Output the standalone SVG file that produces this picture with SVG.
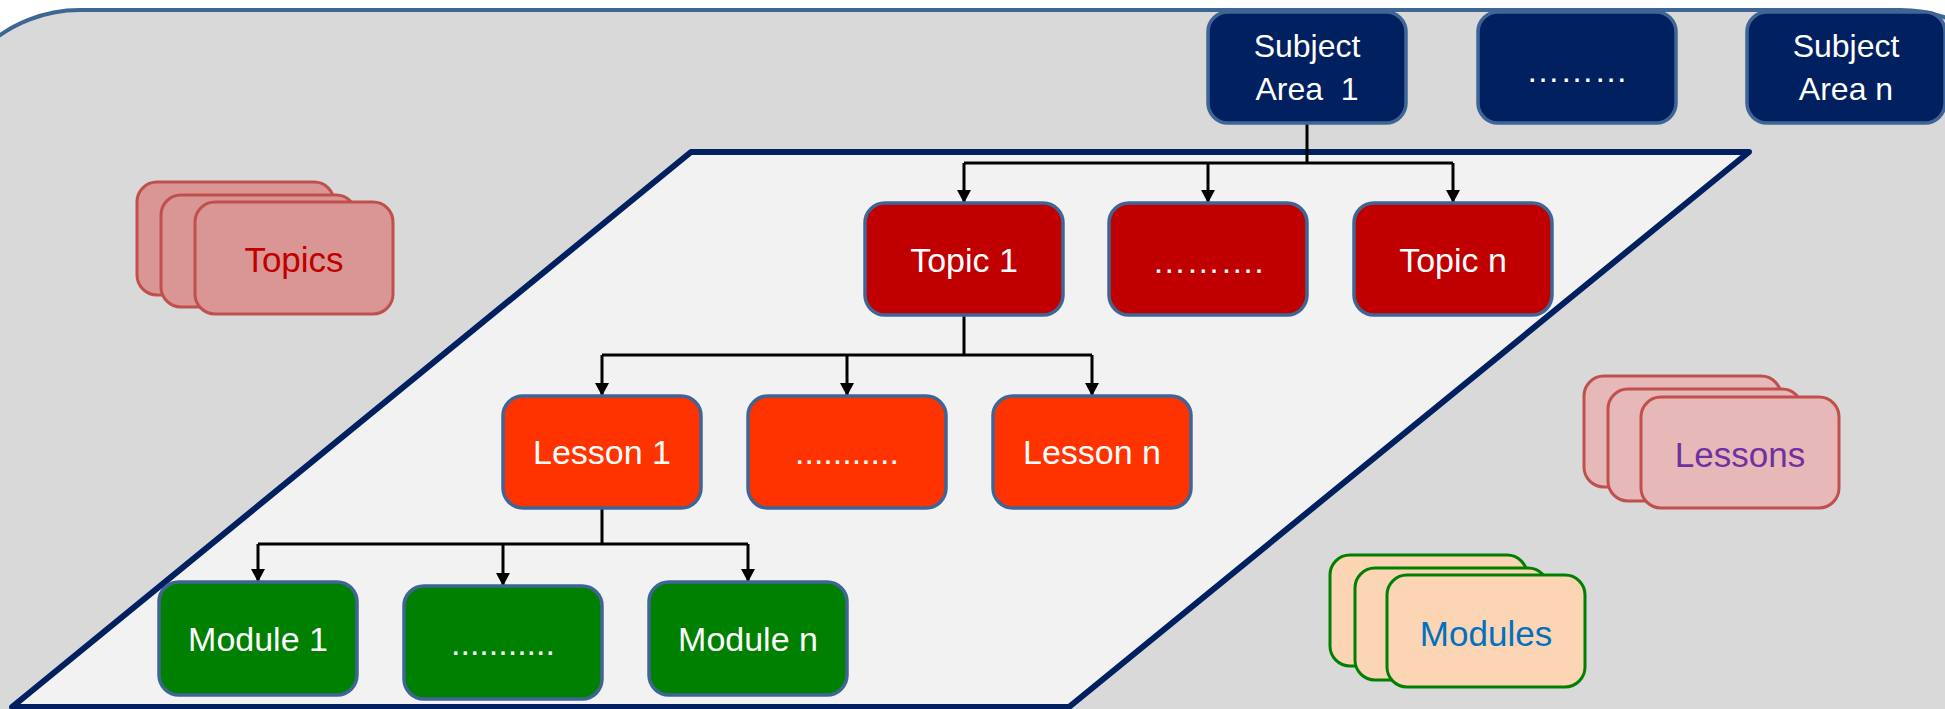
<svg xmlns="http://www.w3.org/2000/svg" width="1945" height="709" viewBox="0 0 1945 709">
<defs>
<style>
.t{font-family:"Liberation Sans",Arial,sans-serif;font-size:34px;text-anchor:middle;fill:#FFFFFF;white-space:pre}
.s{font-size:32px}
.lg{font-family:"Liberation Sans",Arial,sans-serif;font-size:35px;text-anchor:middle}
.subj{fill:#002060;stroke:#3F6596;stroke-width:3.5}
.topic{fill:#C00000;stroke:#3F6596;stroke-width:3.5}
.lesson{fill:#FF3300;stroke:#3F6596;stroke-width:3.5}
.module{fill:#008000;stroke:#3F6596;stroke-width:3.5}
.lt{fill:#DA9694;stroke:#C0504D;stroke-width:3}
.ll{fill:#E6B8B7;stroke:#C0504D;stroke-width:3}
.lm{fill:#FCD5B5;stroke:#008000;stroke-width:3}
.c{fill:none;stroke:#000000;stroke-width:3}
</style>
<marker id="ah" viewBox="0 0 13 14" refX="13" refY="7" markerWidth="13" markerHeight="14" markerUnits="userSpaceOnUse" orient="auto">
<path d="M0,0 L13,7 L0,14 z" fill="#000000"/>
</marker>
</defs>
<rect x="0" y="0" width="1945" height="709" fill="#FFFFFF"/>
<rect x="-60" y="10" width="2100" height="800" rx="140" ry="140" fill="#D9D9D9" stroke="#3E6594" stroke-width="4"/>
<polygon points="691,152 1749,152 1069,707 12,707" fill="#F2F2F2" stroke="#002060" stroke-width="6" stroke-linejoin="round"/>

<g id="legend-topics">
<rect class="lt" x="137" y="182" width="197" height="113" rx="20"/>
<rect class="lt" x="161" y="195" width="195" height="112" rx="20"/>
<rect class="lt" x="195" y="202" width="198" height="112" rx="20"/>
<text class="lg" x="294" y="272" fill="#C00000">Topics</text>
</g>
<g id="legend-lessons">
<rect class="ll" x="1584" y="376" width="197" height="111" rx="20"/>
<rect class="ll" x="1608" y="389" width="194" height="112" rx="20"/>
<rect class="ll" x="1641" y="397" width="198" height="111" rx="20"/>
<text class="lg" x="1740" y="467" fill="#7030A0">Lessons</text>
</g>
<g id="legend-modules">
<rect class="lm" x="1330" y="555" width="197" height="111" rx="20"/>
<rect class="lm" x="1355" y="568" width="193" height="112" rx="20"/>
<rect class="lm" x="1387" y="575" width="198" height="112" rx="20"/>
<text class="lg" x="1486" y="646" fill="#0070C0">Modules</text>
</g>

<g id="connectors">
<path class="c" d="M1307,123 V163 M964,163 H1453"/>
<path class="c" d="M964,163 V203" marker-end="url(#ah)"/>
<path class="c" d="M1208,163 V203" marker-end="url(#ah)"/>
<path class="c" d="M1453,163 V203" marker-end="url(#ah)"/>
<path class="c" d="M964,315 V355 M602,355 H1092"/>
<path class="c" d="M602,355 V396" marker-end="url(#ah)"/>
<path class="c" d="M847,355 V396" marker-end="url(#ah)"/>
<path class="c" d="M1092,355 V396" marker-end="url(#ah)"/>
<path class="c" d="M602,508 V544 M258,544 H748"/>
<path class="c" d="M258,544 V582" marker-end="url(#ah)"/>
<path class="c" d="M503,544 V586" marker-end="url(#ah)"/>
<path class="c" d="M748,544 V582" marker-end="url(#ah)"/>
</g>

<g id="subject-area-1">
<rect class="subj" x="1208" y="12" width="198" height="111" rx="20"/>
<text class="t s" x="1307" y="57">Subject</text>
<text class="t s" x="1307" y="100">Area  1</text>
</g>
<g id="subject-area-dots">
<rect class="subj" x="1478" y="12" width="198" height="111" rx="20"/>
<text class="t" x="1577" y="82">………</text>
</g>
<g id="subject-area-n">
<rect class="subj" x="1747" y="12" width="198" height="111" rx="20"/>
<text class="t s" x="1846" y="57">Subject</text>
<text class="t s" x="1846" y="100">Area n</text>
</g>

<g id="topic-1">
<rect class="topic" x="865" y="203" width="198" height="112" rx="20"/>
<text class="t" x="964" y="272">Topic 1</text>
</g>
<g id="topic-dots">
<rect class="topic" x="1109" y="203" width="198" height="112" rx="20"/>
<text class="t" x="1208" y="273">……….</text>
</g>
<g id="topic-n">
<rect class="topic" x="1354" y="203" width="198" height="112" rx="20"/>
<text class="t" x="1453" y="272">Topic n</text>
</g>

<g id="lesson-1">
<rect class="lesson" x="503" y="396" width="198" height="112" rx="20"/>
<text class="t" x="602" y="464">Lesson 1</text>
</g>
<g id="lesson-dots">
<rect class="lesson" x="748" y="396" width="198" height="112" rx="20"/>
<text class="t" x="847" y="464">...........</text>
</g>
<g id="lesson-n">
<rect class="lesson" x="993" y="396" width="198" height="112" rx="20"/>
<text class="t" x="1092" y="464">Lesson n</text>
</g>

<g id="module-1">
<rect class="module" x="159" y="582" width="198" height="113" rx="20"/>
<text class="t" x="258" y="651">Module 1</text>
</g>
<g id="module-dots">
<rect class="module" x="404" y="586" width="198" height="113" rx="20"/>
<text class="t" x="503" y="655">...........</text>
</g>
<g id="module-n">
<rect class="module" x="649" y="582" width="198" height="113" rx="20"/>
<text class="t" x="748" y="651">Module n</text>
</g>
</svg>
